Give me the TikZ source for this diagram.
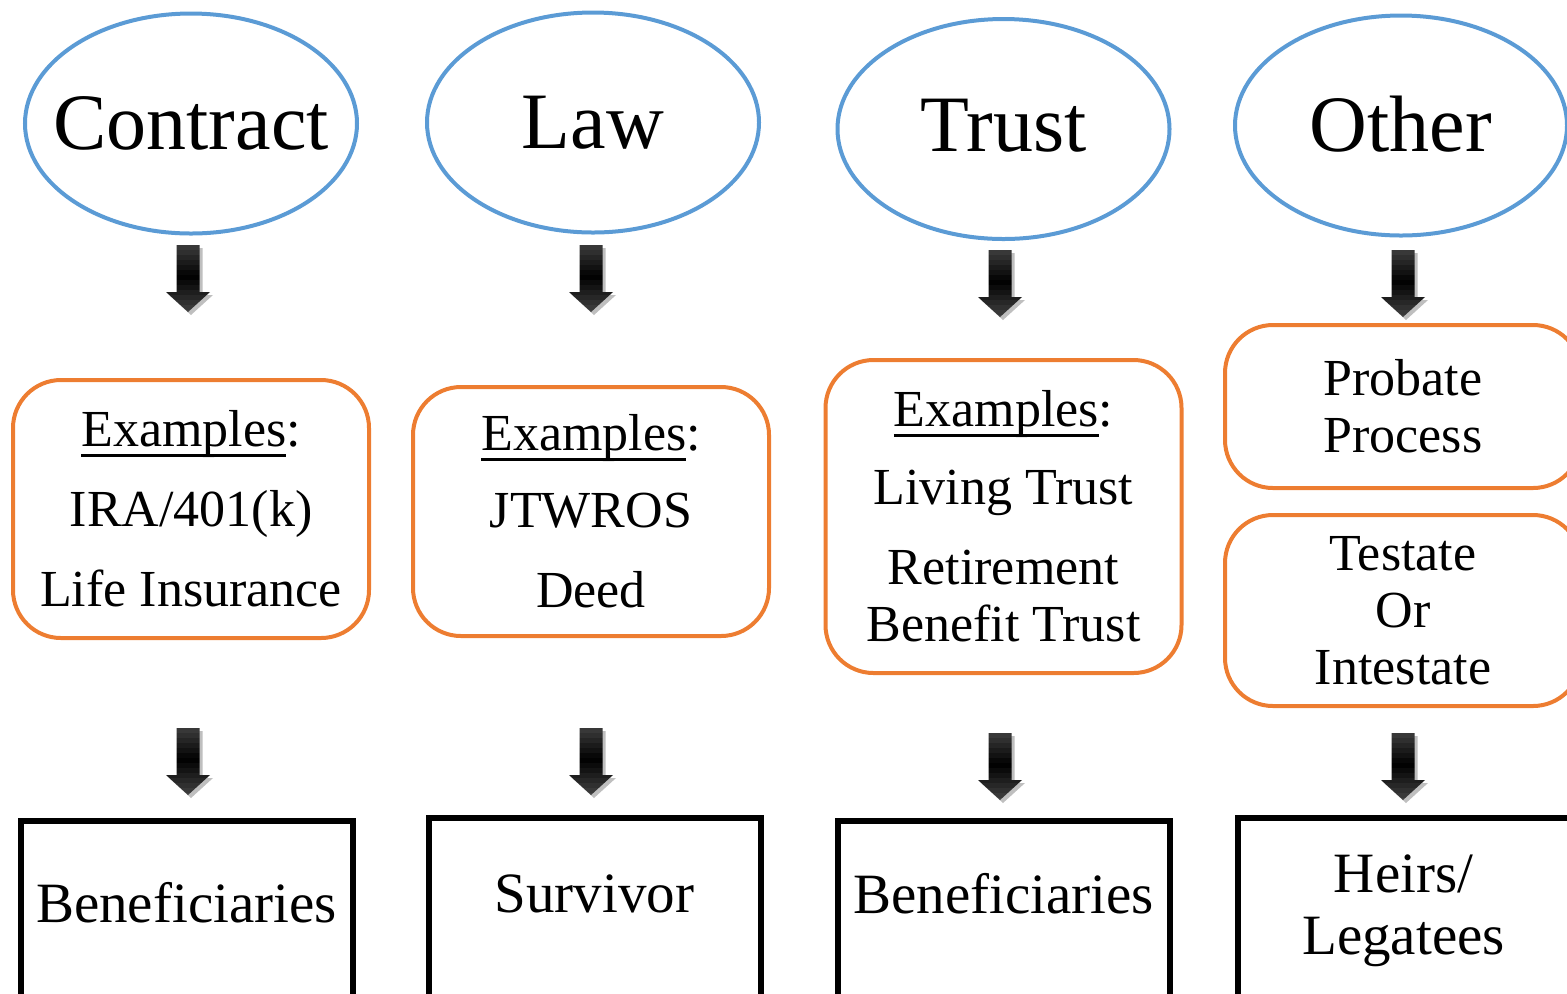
\documentclass[tikz,border=0pt]{standalone}
\usepackage{fontspec}
\setmainfont{Liberation Serif}
\usepackage{tikz}
\usetikzlibrary{calc,shapes.geometric}
\definecolor{kindblue}{HTML}{5B9BD5}
\definecolor{boxorange}{HTML}{ED7D31}

\tikzset{
  kind/.style={ellipse, draw=kindblue, line width=2pt, inner sep=0pt,
    minimum width=166pt, minimum height=110pt,
    font=\fontsize{40}{44}\selectfont},
  example/.style={draw=boxorange, line width=2pt, rounded corners=24pt,
    inner sep=0pt, minimum width=178pt, align=center,
    font=\fontsize{26}{28.5}\selectfont},
  result/.style={draw=black, line width=3pt, inner sep=0pt, anchor=north,
    minimum width=166pt, text depth=120pt,
    font=\fontsize{28.5}{31}\selectfont},
}
% block arrow with banded shading, #1 = top centre
\newcommand{\arrowpath}[1]{($#1+(-11.5,0)$) -- ++(23,0) -- ++(0,47) -- ++(10.5,0)
    -- ($#1+(0,67)$) -- ($#1+(-22,47)$) -- ++(10.5,0) -- cycle}
\newcommand{\flowarrow}[1]{%
  \fill[black!25, shift={(3,3)}] \arrowpath{#1};
  \begin{scope}
    \clip \arrowpath{#1};
    \foreach \i in {0,...,13} {
      \pgfmathsetmacro{\t}{(\i+0.5)/14}
      \pgfmathsetmacro{\k}{\t<0.45 ? 76+24*\t/0.45 : 100-28*(\t-0.45)/0.55}
      \fill[black!\k] ($#1+(-25,\i*5)$) rectangle ($#1+(25,\i*5+5.2)$);
    }
  \end{scope}}
\newcommand{\kindname}[1]{\makebox[0pt]{#1}}
% underline that runs through the descenders
\newcommand{\lowline}[1]{\setbox0\hbox{#1}\rlap{\rule[-5pt]{\wd0}{1.2pt}}\box0}

\begin{document}
\begin{tikzpicture}[x=0.5pt, y=-0.5pt]
  \useasboundingbox (0,0) rectangle (1567,993);
  \clip (0,0) rectangle (1567,993);

  % kinds of transfer
  \node[kind] (contract) at (191,123.5) {\kindname{Contract}};
  \node[kind] (law) at (593,122.5) {\kindname{Law}};
  \node[kind] (trust) at (1003.5,129) {\kindname{\raisebox{4pt}{Trust}}};
  \node[kind] (other) at (1401,125.5) {\kindname{\raisebox{1.5pt}{Other}}};

  \flowarrow{(188,245)}
  \flowarrow{(591,245)}
  \flowarrow{(1000,250)}
  \flowarrow{(1403,250)}

  % examples
  \node[example, minimum height=129pt] (contractex) at (191,509)
    {\lowline{Examples}:\\[11.5pt] IRA/401(k)\\[11.5pt] Life Insurance};
  \node[example, minimum height=124.5pt] (lawex) at (591,511.5)
    {\lowline{Examples}:\\[10pt] JTWROS\\[11.5pt] Deed};
  \node[example, minimum height=156.5pt] (trustex) at (1003.5,516.5)
    {\lowline{Examples}:\\[10.5pt] Living Trust\\[11.5pt] Retirement\\ Benefit Trust};
  \node[example, minimum height=81.5pt] (probate) at (1403,406.5)
    {Probate\\ Process};
  \node[example, minimum height=95.5pt] (testate) at (1403,610.5)
    {Testate\\ Or\\ Intestate};

  \flowarrow{(188,728)}
  \flowarrow{(591,728)}
  \flowarrow{(1000,733)}
  \flowarrow{(1403,733)}

  % who receives
  \node[result, text height=50.5pt] (contractres) at (186.5,818) {Beneficiaries};
  \node[result, text height=47pt] (lawres) at (594.5,815) {Survivor};
  \node[result, text height=46pt] (trustres) at (1003.5,818) {Beneficiaries};
  \node[result, text height=37pt] (otherres) at (1403.5,815)
    {\begin{tabular}[t]{@{}c@{}}Heirs/\\ Legatees\end{tabular}};
\end{tikzpicture}
\end{document}
